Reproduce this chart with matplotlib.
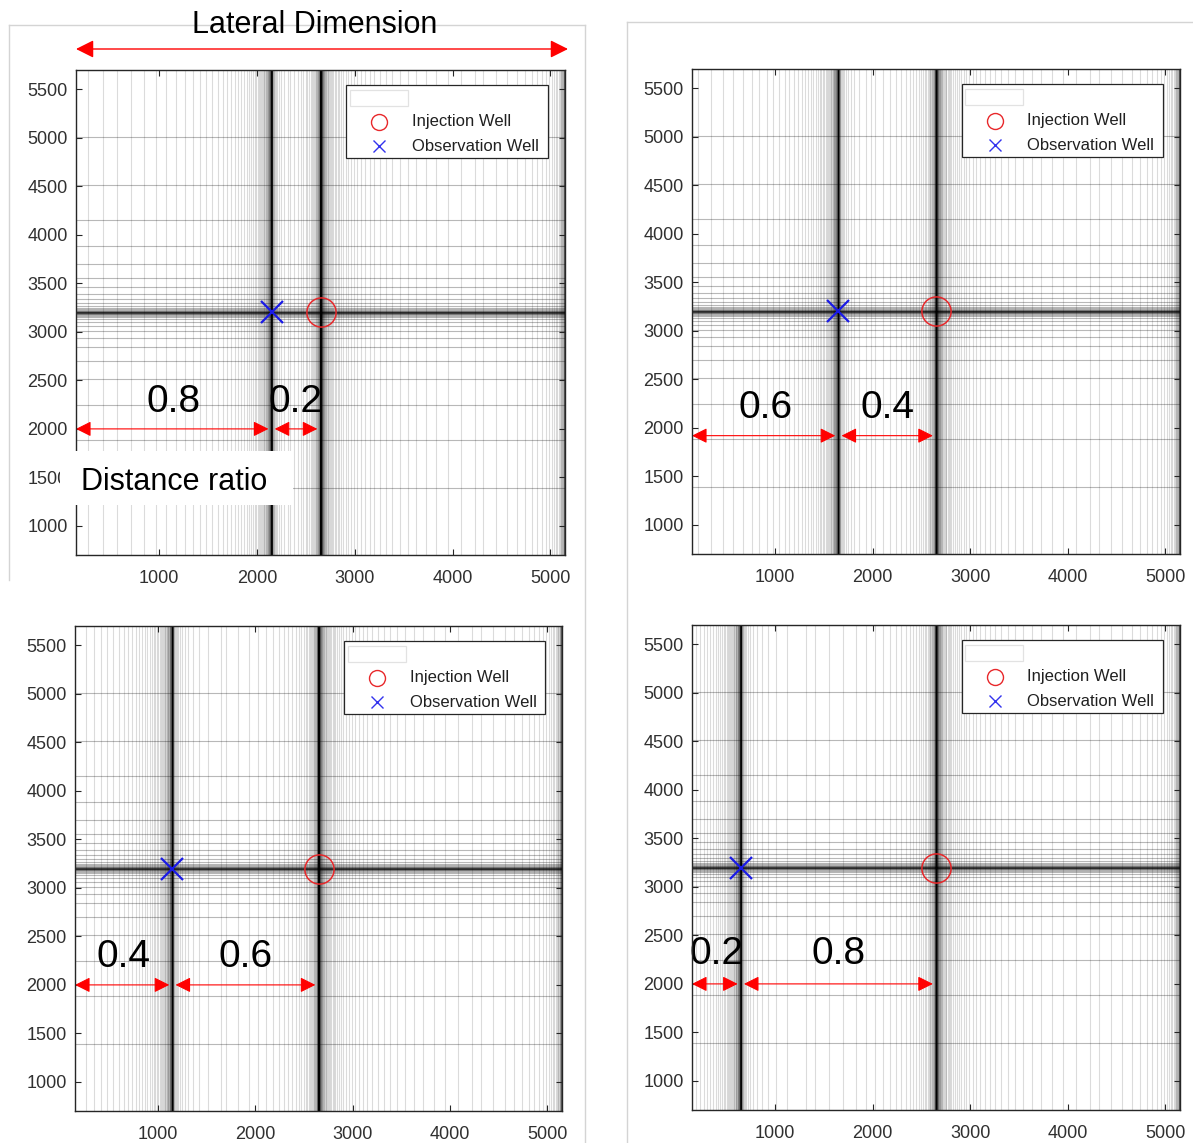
import numpy as np
import matplotlib.pyplot as plt
from matplotlib.patches import Rectangle, FancyArrowPatch
from matplotlib.lines import Line2D

plt.rcParams['font.family'] = ['Liberation Sans', 'DejaVu Sans']

W, H = 1193, 1143

# model domain and wells
x_left, x_right = 150, 5150
y_bottom, y_top = 700, 5700
inj_x = 2650
well_y = 3200
obs_x = [2150, 1650, 1150, 650]
ratio_labels = [("0.8", "0.2"), ("0.6", "0.4"), ("0.4", "0.6"), ("0.2", "0.8")]
arrow_y = [2000, 1920, 2000, 2000]
label_y = [2170, 2100, 2180, 2200]

xticks = [1000, 2000, 3000, 4000, 5000]
yticks = [1000, 1500, 2000, 2500, 3000, 3500, 4000, 4500, 5000, 5500]

# mesh grading (first cell, growth ratio, max cell)
d0_x, dmax_x = 0.2, 150.0
r_obs_left, r_obs_right = 1.10, 1.30
r_inj_left, r_inj_right = 1.15, 1.10
r_edge = 1.20
d0_y, r_y = 1.1, 1.38

# axes boxes in pixels: left, top, right, bottom
panel_px = [(76, 70, 565, 555), (692, 69, 1180, 554),
            (75, 626, 562, 1111), (692, 625, 1180, 1110)]


def graded(length, r, d0=d0_x, dmax=dmax_x):
    offs = []
    d, s = d0, 0.0
    while True:
        s += d
        if s >= length - 0.4 * d:
            break
        offs.append(s)
        d = min(d * r, dmax)
    return np.array(offs)


def segment(a, b, ra=None, rb=None):
    L = b - a
    if ra and rb:
        split = L * (rb - 1) / ((ra - 1) + (rb - 1))
        return np.concatenate([a + graded(split, ra), [a + split],
                               b - graded(L - split, rb)])
    if ra:
        return a + graded(L, ra)
    return b - graded(L, rb)


def x_mesh(ox):
    parts = [[x_left, ox, inj_x, x_right],
             segment(x_left, ox, rb=r_obs_left),
             segment(ox, inj_x, ra=r_obs_right, rb=r_inj_left),
             segment(inj_x, x_right, ra=r_inj_right, rb=r_edge)]
    return np.concatenate(parts)


y_off = graded(2500, r_y, d0=d0_y, dmax=1e9)
y_lines = np.concatenate([[y_bottom, well_y, y_top], well_y + y_off, well_y - y_off])

fig = plt.figure(figsize=(W / 100, H / 100), dpi=100)


def fx(px):
    return px / W


def fy(py):
    return 1 - py / H


for i in range(4):
    l, t, r, b = panel_px[i]
    ax = fig.add_axes([fx(l), fy(b), (r - l) / W, (b - t) / H])
    ox = obs_x[i]

    ax.vlines(x_mesh(ox), y_bottom, y_top, colors='k', alpha=0.14, lw=0.8, zorder=1)
    ax.hlines(y_lines, x_left, x_right, colors='k', alpha=0.28, lw=0.8, zorder=1)

    ax.plot(inj_x, well_y, 'o', ms=21, mfc='none', mec='#e8282b', mew=1.1, zorder=4)
    ax.plot(ox, well_y, 'x', ms=16, color='#1a1ae6', mew=1.6, zorder=4)

    # distance ratio arrows
    ay = arrow_y[i]
    gap = 32
    for xa, xb in [(x_left, ox - gap), (ox + gap, inj_x - gap)]:
        ax.add_patch(FancyArrowPatch((xa, ay), (xb, ay), arrowstyle='<|-|>',
                                     mutation_scale=23, color='red', lw=0.8,
                                     shrinkA=0, shrinkB=0, zorder=5))
    ax.text((x_left + ox) / 2, label_y[i], ratio_labels[i][0], fontsize=28,
            ha='center', va='baseline', zorder=6)
    ax.text((ox + inj_x) / 2, label_y[i], ratio_labels[i][1], fontsize=28,
            ha='center', va='baseline', zorder=6)

    ax.set_xlim(x_left, x_right)
    ax.set_ylim(y_bottom, y_top)
    ax.set_xticks(xticks)
    ax.set_yticks(yticks)
    ax.tick_params(direction='in', top=True, right=True, length=4, width=0.8,
                   labelsize=13, labelcolor='#303030', color='#262626')
    ax.tick_params(axis='x', pad=11)
    ax.tick_params(axis='y', pad=6)
    for sp in ax.spines.values():
        sp.set_color('#262626')
        sp.set_linewidth(1.0)
        sp.set_zorder(7)

    # legend box (blank entry on top, as in the source figure)
    tr = ax.transAxes
    ax.add_patch(Rectangle((0.553, 0.819), 0.413, 0.150, transform=tr, fc='white',
                           ec='#262626', lw=0.9, zorder=8))
    ax.add_patch(Rectangle((0.560, 0.926), 0.119, 0.033, transform=tr, fc='white',
                           ec='#e2e2e2', lw=0.9, zorder=9))
    ax.plot(0.620, 0.893, 'o', ms=11.5, mfc='none', mec='#e8282b', mew=1.0,
            transform=tr, zorder=9)
    ax.plot(0.620, 0.843, 'x', ms=9, color='#3333ee', mew=1.0, transform=tr, zorder=9)
    ax.text(0.687, 0.893, 'Injection Well', fontsize=12, va='center', transform=tr,
            color='#202020', zorder=9)
    ax.text(0.687, 0.843, 'Observation Well', fontsize=12, va='center', transform=tr,
            color='#202020', zorder=9)

# screenshot frames
frame_c = '#d4d4d4'
for (x0, y0, x1, y1) in [(9, 25, 585, 25), (9, 25, 9, 580), (585, 25, 585, 1143),
                         (627, 22, 1193, 22), (627, 22, 627, 1143)]:
    fig.add_artist(Line2D([fx(x0), fx(x1)], [fy(y0), fy(y1)], color=frame_c, lw=1.0,
                          transform=fig.transFigure, zorder=0.5))

# lateral dimension annotation
fig.add_artist(FancyArrowPatch((fx(76), fy(49)), (fx(568), fy(49)), arrowstyle='<|-|>',
                               mutation_scale=27, color='red', lw=1.0, shrinkA=0, shrinkB=0,
                               transform=fig.transFigure))
fig.text(fx(315), fy(33), 'Lateral Dimension', fontsize=22, ha='center', va='baseline')

# distance ratio label on white box
fig.add_artist(Rectangle((fx(60), fy(505)), (293 - 60) / W, (505 - 451) / H, fc='white',
                         ec='none', transform=fig.transFigure, zorder=2))
fig.text(fx(81), fy(490), 'Distance ratio', fontsize=22, ha='left', va='baseline', zorder=3)

fig.savefig('out.png', dpi=100)
